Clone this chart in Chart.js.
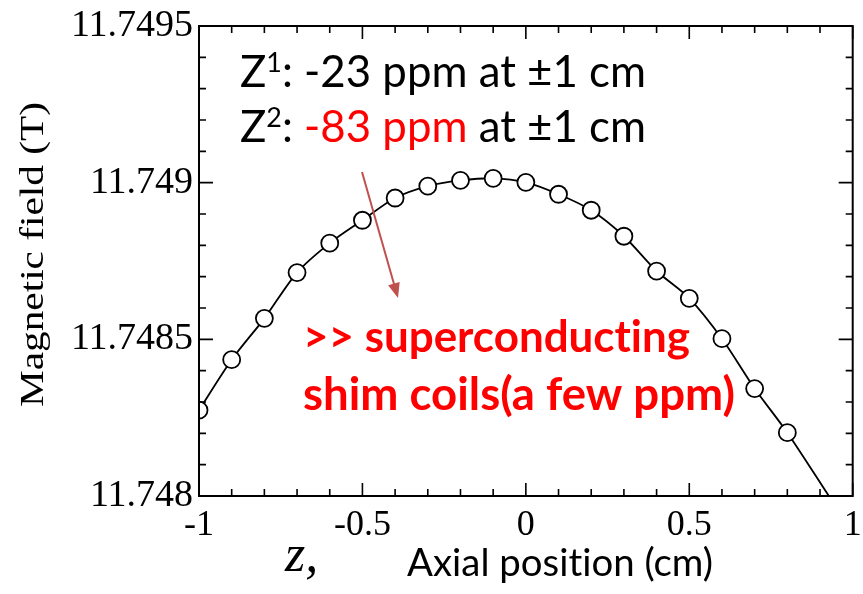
<!DOCTYPE html>
<html>
<head>
<meta charset="utf-8">
<title>Magnetic field vs axial position</title>
<script src="https://cdn.jsdelivr.net/npm/chart.js@4.4.1/dist/chart.umd.min.js"></script>
<style>
  html, body { margin: 0; padding: 0; background: #fff; }
</style>
</head>
<body>
<canvas id="fieldChart" width="863" height="594"></canvas>
<script>
// Measured points: axial position (cm) and field (T)
const positionCm = [-1, -0.9, -0.8, -0.7, -0.6, -0.5, -0.4, -0.3, -0.2, -0.1,
                    0, 0.1, 0.2, 0.3, 0.4, 0.5, 0.6, 0.7, 0.8];
const fieldT = [11.748274, 11.748435, 11.748567, 11.748713, 11.748807, 11.748880,
                11.748951, 11.748989, 11.749007, 11.749014, 11.749001, 11.748963,
                11.748912, 11.748829, 11.748718, 11.748631, 11.748502, 11.748343,
                11.748202];

// the fitted curve carries on past the last point until it leaves the frame
const curveEndCm = [0.927];
const curveEndT = [11.748];

// tick positions / labels
const xMajorTicks = [-1, -0.5, 0, 0.5, 1];
const xMinorTicks = [-0.9, -0.8, -0.7, -0.6, -0.4, -0.3, -0.2, -0.1,
                     0.1, 0.2, 0.3, 0.4, 0.6, 0.7, 0.8, 0.9];
const yMajorTicks = [11.748, 11.7485, 11.749, 11.7495];
const yMinorTicks = [11.7481, 11.7482, 11.7483, 11.7484, 11.7486, 11.7487, 11.7488,
                     11.7489, 11.7491, 11.7492, 11.7493, 11.7494];

const SANS = 'Lato, "Open Sans", sans-serif';
const SERIF = '"Liberation Serif", "DejaVu Serif", serif';
const NOLIG = '\u200C'; // keeps Lato from joining "ti"

// draw a row of coloured text pieces, scaled so the whole row has the wanted width
function drawRuns(ctx, runs, x, y, targetWidth) {
  let total = 0;
  runs.forEach(r => {
    ctx.font = r.font;
    total += ctx.measureText(r.text).width;
  });
  const k = targetWidth / total;
  ctx.save();
  ctx.translate(x, y);
  ctx.scale(k, k);
  ctx.textAlign = 'left';
  ctx.textBaseline = 'alphabetic';
  let cx = 0;
  runs.forEach(r => {
    ctx.font = r.font;
    ctx.fillStyle = r.color || '#000';
    ctx.fillText(r.text, cx, r.dy || 0);
    cx += ctx.measureText(r.text).width;
  });
  ctx.restore();
}

const framePlugin = {
  id: 'frameAndNotes',
  afterDraw(chart) {
    const ctx = chart.ctx;
    const a = chart.chartArea;
    const xs = chart.scales.x;
    const ys = chart.scales.y;

    ctx.save();
    ctx.strokeStyle = '#000';
    ctx.lineWidth = 2;
    ctx.strokeRect(a.left, a.top, a.right - a.left, a.bottom - a.top);

    // inward ticks on all four sides
    ctx.lineWidth = 1.6;
    const tickX = (v, len) => {
      const px = xs.getPixelForValue(v);
      ctx.beginPath();
      ctx.moveTo(px, a.bottom); ctx.lineTo(px, a.bottom - len);
      ctx.moveTo(px, a.top); ctx.lineTo(px, a.top + len);
      ctx.stroke();
    };
    const tickY = (v, len) => {
      const py = ys.getPixelForValue(v);
      ctx.beginPath();
      ctx.moveTo(a.left, py); ctx.lineTo(a.left + len, py);
      ctx.moveTo(a.right, py); ctx.lineTo(a.right - len, py);
      ctx.stroke();
    };
    xMajorTicks.forEach(v => tickX(v, 13));
    xMinorTicks.forEach(v => tickX(v, 7));
    yMajorTicks.forEach(v => tickY(v, 14));
    yMinorTicks.forEach(v => tickY(v, 7));

    // y axis title, stretched along its length like the original
    ctx.save();
    ctx.translate(43, 254.5);
    ctx.rotate(-Math.PI / 2);
    ctx.font = '33px ' + SERIF;
    const title = 'Magnetic field (T)';
    const tw = ctx.measureText(title).width;
    ctx.scale(305 / tw, 1);
    ctx.fillStyle = '#000';
    ctx.textAlign = 'center';
    ctx.textBaseline = 'alphabetic';
    ctx.fillText(title, 0, 0);
    ctx.restore();

    // x axis title
    ctx.fillStyle = '#000';
    ctx.font = 'italic 52px ' + SERIF;
    ctx.textAlign = 'left';
    ctx.textBaseline = 'alphabetic';
    ctx.fillText('z,', 285, 571);
    drawRuns(ctx, [{ text: 'Axial posit' + NOLIG + 'ion (cm)', font: '30px ' + SANS }], 407, 576, 306);

    // gradient notes
    const big = '44px ' + SANS;
    const sup = '27px ' + SANS;
    drawRuns(ctx, [
      { text: 'Z', font: big },
      { text: '1', font: sup, dy: -15 },
      { text: ': -23 ppm at \u00B11 cm', font: big }
    ], 240, 87, 406);
    drawRuns(ctx, [
      { text: 'Z', font: big },
      { text: '2', font: sup, dy: -15 },
      { text: ': ', font: big },
      { text: '-83 ppm', font: big, color: '#ff0000' },
      { text: ' at \u00B11 cm', font: big }
    ], 240, 142, 406);

    // arrow
    const x0 = 362, y0 = 172, x1 = 398, y1 = 298;
    const ang = Math.atan2(y1 - y0, x1 - x0);
    ctx.strokeStyle = '#c0504d';
    ctx.fillStyle = '#c0504d';
    ctx.lineWidth = 2;
    ctx.beginPath();
    ctx.moveTo(x0, y0);
    ctx.lineTo(x1 - 12 * Math.cos(ang), y1 - 12 * Math.sin(ang));
    ctx.stroke();
    ctx.beginPath();
    ctx.moveTo(x1, y1);
    ctx.lineTo(x1 - 15 * Math.cos(ang) + 6 * Math.sin(ang), y1 - 15 * Math.sin(ang) - 6 * Math.cos(ang));
    ctx.lineTo(x1 - 15 * Math.cos(ang) - 6 * Math.sin(ang), y1 - 15 * Math.sin(ang) + 6 * Math.cos(ang));
    ctx.closePath();
    ctx.fill();

    // red remark
    const bold = 'bold 40px ' + SANS;
    drawRuns(ctx, [{ text: '>> superconduct' + NOLIG + 'ing', font: bold, color: '#ff0000' }], 303, 352, 387);
    drawRuns(ctx, [{ text: 'shim coils(a few ppm)', font: bold, color: '#ff0000' }], 303, 410, 432);

    ctx.restore();
  }
};

const points = positionCm.map((x, i) => ({ x: x, y: fieldT[i] }));
const curve = points.concat(curveEndCm.map((x, i) => ({ x: x, y: curveEndT[i] })));

new Chart(document.getElementById('fieldChart'), {
  type: 'scatter',
  data: {
    datasets: [
      {
        label: 'measured',
        data: points,
        showLine: false,
        pointRadius: 8.5,
        pointHoverRadius: 8.5,
        pointBackgroundColor: '#fff',
        pointBorderColor: '#000',
        pointBorderWidth: 1.8,
        order: 0
      },
      {
        label: 'fit',
        data: curve,
        showLine: true,
        borderColor: '#000',
        borderWidth: 1.8,
        tension: 0.3,
        pointRadius: 0,
        order: 1
      }
    ]
  },
  options: {
    responsive: false,
    animation: false,
    layout: { padding: { top: 26, right: 9, left: 0, bottom: 0 } },
    plugins: {
      legend: { display: false },
      tooltip: { enabled: false }
    },
    scales: {
      x: {
        type: 'linear',
        min: -1,
        max: 1,
        grid: { display: false, drawTicks: false },
        border: { display: false },
        afterBuildTicks: s => { s.ticks = xMajorTicks.map(v => ({ value: v })); },
        afterFit: s => { s.height = 98; s.paddingLeft = 0; s.paddingRight = 0; },
        ticks: {
          padding: 8,
          maxRotation: 0,
          autoSkip: false,
          color: '#000',
          font: { family: SERIF, size: 36 },
          callback: v => String(v)
        }
      },
      y: {
        type: 'linear',
        min: 11.748,
        max: 11.7495,
        grid: { display: false, drawTicks: false },
        border: { display: false },
        afterBuildTicks: s => { s.ticks = yMajorTicks.map(v => ({ value: v })); },
        afterFit: s => { s.width = 199; s.paddingTop = 0; s.paddingBottom = 0; },
        ticks: {
          padding: 6,
          autoSkip: false,
          color: '#000',
          font: { family: SERIF, size: 38 },
          callback: v => String(parseFloat(v.toFixed(4)))
        }
      }
    }
  },
  plugins: [framePlugin]
});
</script>
</body>
</html>
